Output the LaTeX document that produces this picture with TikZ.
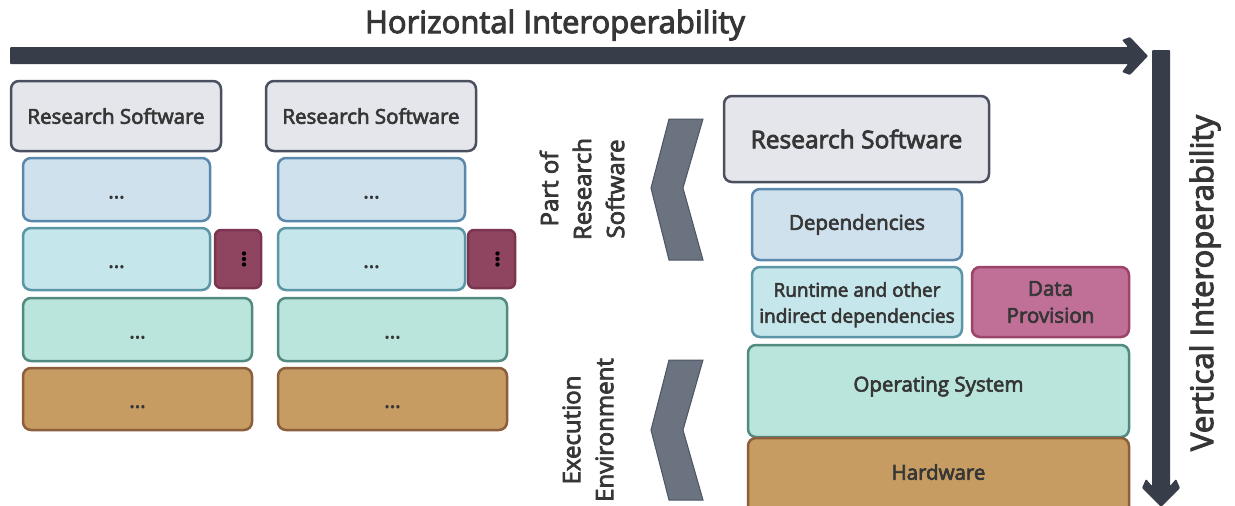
\documentclass[tikz,border=0pt]{standalone}
\usepackage{fontspec}
\setmainfont{Open Sans}[FakeBold=3.2, UprightFeatures={FakeBold=3.2}]
\usetikzlibrary{calc}

\definecolor{txt}{HTML}{363636}
\definecolor{arrowdark}{HTML}{373E4A}
\definecolor{rsfill}{HTML}{E4E6EB}
\definecolor{rsline}{HTML}{4A5060}
\definecolor{depfill}{HTML}{CFE1EC}
\definecolor{depline}{HTML}{5A88AD}
\definecolor{rtfill}{HTML}{C5E6EA}
\definecolor{rtline}{HTML}{5B96A6}
\definecolor{osfill}{HTML}{B9E5DC}
\definecolor{osline}{HTML}{528A80}
\definecolor{hwfill}{HTML}{C69C62}
\definecolor{hwline}{HTML}{8C5E3C}
\definecolor{extfill}{HTML}{8F4560}
\definecolor{extline}{HTML}{7B3550}
\definecolor{dpfill}{HTML}{C07096}
\definecolor{dpline}{HTML}{9B4368}
\definecolor{chevfill}{HTML}{6B7280}
\definecolor{chevline}{HTML}{4B5563}

\tikzset{
  layer/.style={rectangle, rounded corners=8pt, line width=2.5pt, inner sep=0pt,
    text=txt, align=center, font=\fontsize{20.5}{26}\selectfont},
  rsbox/.style={layer, draw=rsline, fill=rsfill},
  depbox/.style={layer, draw=depline, fill=depfill},
  rtbox/.style={layer, draw=rtline, fill=rtfill},
  osbox/.style={layer, draw=osline, fill=osfill},
  hwbox/.style={layer, draw=hwline, fill=hwfill},
  extbox/.style={layer, draw=extline, fill=extfill, rounded corners=6pt},
  dpbox/.style={layer, draw=dpline, fill=dpfill},
  dotted text/.style={text height=18pt},
  chevron/.style={fill=chevfill, draw=chevline, line width=1pt, line join=miter},
  sidelabel/.style={rotate=90, align=center, text=txt, inner sep=0pt,
    font=\fontsize{24}{33}\selectfont},
  biglabel/.style={text=txt, inner sep=0pt, font=\fontsize{31}{36}\selectfont},
}

\begin{document}
\begin{tikzpicture}[x=1pt, y=-1pt]
\clip (0,0) rectangle (1235,506);
\fill[white] (0,0) rectangle (1235,506);

% interoperability axes
\node[biglabel] (htitle) at (555,25) {Horizontal Interoperability};
\fill[arrowdark, rounded corners=1pt]
  (10,47) -- (1128,47) -- (1122,40) -- (1130,37) -- (1148,56)
  -- (1130,75) -- (1122,72) -- (1128,64) -- (10,64) -- cycle;
\fill[arrowdark, rounded corners=1pt]
  (1152,50) -- (1170,50) -- (1170,486) -- (1176,479) -- (1180,488)
  -- (1161,507) -- (1142,488) -- (1146,479) -- (1152,486) -- cycle;
\node[biglabel, rotate=90] (vtitle) at (1205,283) {Vertical Interoperability};

% first generic stack
\node[rsbox, minimum width=210pt, minimum height=70pt] (rsA) at (116,116) {Research Software};
\node[depbox, dotted text, minimum width=187pt, minimum height=63pt] (depA) at (116.5,189.5) {...};
\node[rtbox, dotted text, minimum width=187pt, minimum height=62pt] (rtA) at (116.5,259) {...};
\node[extbox, minimum width=46pt, minimum height=58pt] (extA) at (238,259) {};
\node[osbox, dotted text, minimum width=229pt, minimum height=63pt] (osA) at (137.5,329.5) {...};
\node[hwbox, dotted text, minimum width=229pt, minimum height=62pt] (hwA) at (137.5,399) {...};
\foreach \dy in {-5.5,0,5.5}
  \fill[black] ($(extA.center)+(6,\dy)$) circle (2.2pt);

% second generic stack
\node[rsbox, minimum width=210pt, minimum height=70pt] (rsB) at (371,116) {Research Software};
\node[depbox, dotted text, minimum width=187pt, minimum height=63pt] (depB) at (371.5,189.5) {...};
\node[rtbox, dotted text, minimum width=187pt, minimum height=62pt] (rtB) at (371.5,259) {...};
\node[extbox, minimum width=47pt, minimum height=58pt] (extB) at (491.5,259) {};
\node[osbox, dotted text, minimum width=229pt, minimum height=63pt] (osB) at (392.5,329.5) {...};
\node[hwbox, dotted text, minimum width=229pt, minimum height=62pt] (hwB) at (392.5,399) {...};
\foreach \dy in {-5.5,0,5.5}
  \fill[black] ($(extB.center)+(6,\dy)$) circle (2.2pt);

% detailed stack
\node[rsbox, minimum width=265pt, minimum height=86pt, font=\fontsize{24.5}{30}\selectfont]
  (rs) at (856.5,139) {Research Software};
\node[depbox, minimum width=210pt, minimum height=71pt] (dep) at (857,224.5) {Dependencies};
\node[rtbox, minimum width=210pt, minimum height=70pt, text height=46pt, font=\fontsize{19}{26}\selectfont]
  (rt) at (857,302) {Runtime and other\\indirect dependencies};
\node[dpbox, minimum width=157pt, minimum height=70pt, font=\fontsize{20.5}{27}\selectfont]
  (dp) at (1050.5,302) {Data\\Provision};
\node[osbox, minimum width=381pt, minimum height=92pt, text depth=14pt] (os) at (938.5,391) {Operating System};
\node[hwbox, minimum width=381pt, minimum height=82pt] (hw) at (938.5,479) {};
\node[text=txt, font=\fontsize{20.5}{26}\selectfont, inner sep=0pt] (hwtext) at (938.5,472) {Hardware};

% grouping brackets
\draw[chevron] (703,119) -- (669,119) -- (651,188) -- (669,260) -- (703,260) -- (683,188) -- cycle;
\draw[chevron] (703,360) -- (669,360) -- (651,430) -- (669,500) -- (703,500) -- (683,430) -- cycle;
\node[sidelabel] (partlabel) at (582,189) {Part of\\Research\\Software};
\node[sidelabel] (execlabel) at (588,430) {Execution\\Environment};
\end{tikzpicture}
\end{document}
